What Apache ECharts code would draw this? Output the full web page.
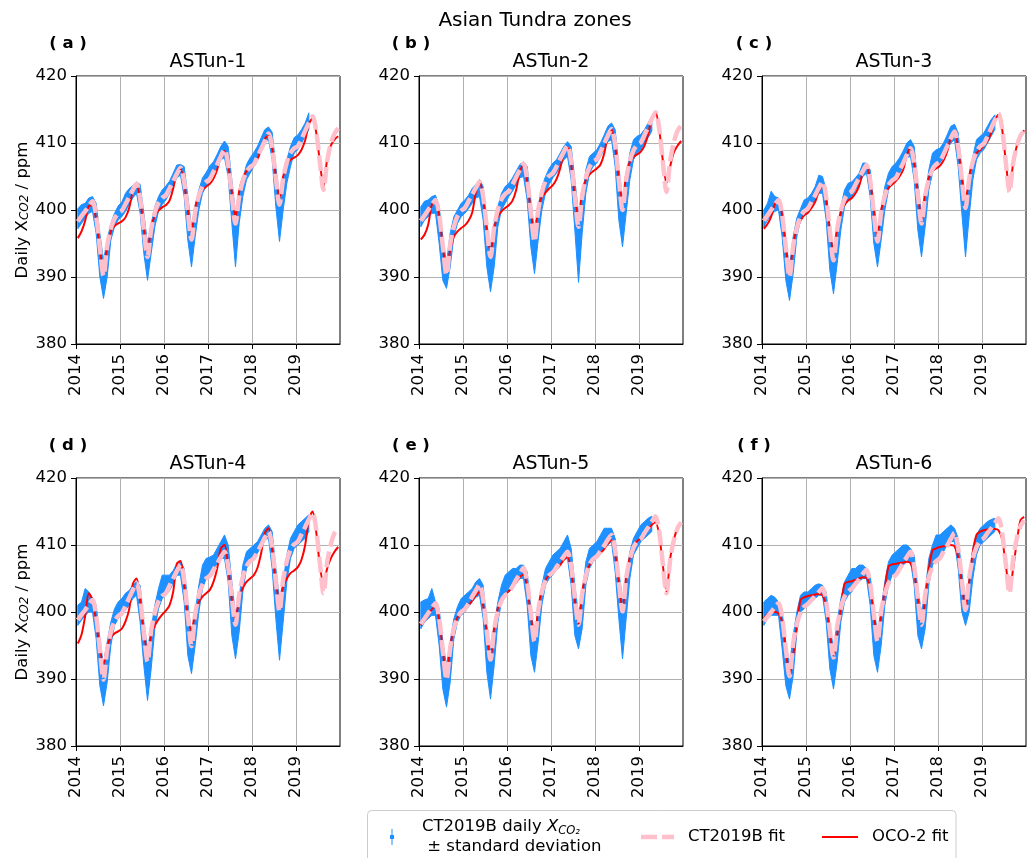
<!DOCTYPE html>
<html>
<head>
<meta charset="utf-8">
<title>Asian Tundra zones</title>
<script src="https://cdn.jsdelivr.net/npm/echarts@6/dist/echarts.min.js"></script>
<style>
    html, body { margin: 0; padding: 0; background: #fff; }
    #chart { width: 1027px; height: 858px; }
</style>
</head>
<body>
<div id="chart"></div>
<script>
// time axis: middle of every month 2014-2019, decimal years
const years = [2014, 2015, 2016, 2017, 2018, 2019]
const yearTicks = [2014, 2015, 2016, 2017, 2018, 2019]
const monthX = []
years.forEach(y => { for (let m = 0; m < 12; m++) monthX.push(y + (m + 0.5) / 12) })

const zoneNames = ['ASTun-1', 'ASTun-2', 'ASTun-3', 'ASTun-4', 'ASTun-5', 'ASTun-6']
const panelTags = ['( a )', '( b )', '( c )', '( d )', '( e )', '( f )']

// ---- ASTun-1 ----
const ctFit1 = [
    398.3, 399.1, 399.8, 400.6, 401.3, 399.1, 394.4, 390.2, 394.6, 397.2, 398.7, 399.5,
    399.9, 400.9, 401.9, 403.0, 403.9, 401.7, 397.1, 393.0, 397.1, 399.6, 401.1, 401.8,
    402.2, 403.2, 404.3, 405.4, 406.3, 404.2, 399.7, 395.6, 399.7, 402.1, 403.5, 404.2,
    404.6, 405.7, 406.8, 408.0, 409.0, 406.8, 402.2, 398.0, 402.0, 404.3, 405.7, 406.4,
    406.8, 408.0, 409.1, 410.3, 411.4, 409.3, 404.8, 400.8, 404.7, 407.1, 408.5, 409.2,
    409.5, 410.6, 411.8, 413.0, 414.0, 411.8, 407.2, 403.0, 407.3, 409.9, 411.4, 412.2
]
const ocoFit1 = [
    395.8, 396.8, 398.4, 400.6, 400.7, 398.5, 394.2, 391.0, 394.5, 396.8, 397.6, 398.0,
    398.3, 398.9, 400.3, 402.8, 403.7, 401.6, 397.3, 393.9, 397.3, 399.2, 399.9, 400.4,
    400.7, 401.4, 403.2, 405.6, 406.1, 404.0, 400.0, 396.7, 400.4, 402.2, 403.0, 403.5,
    403.9, 404.7, 406.0, 408.2, 408.8, 406.8, 402.6, 399.0, 402.8, 404.8, 405.8, 406.3,
    406.7, 407.6, 409.0, 410.6, 411.1, 409.2, 405.1, 401.8, 405.0, 406.8, 407.5, 407.8,
    408.2, 409.0, 410.4, 412.8, 413.7, 411.6, 407.2, 403.4, 407.6, 409.6, 410.5, 411.0
]
const dailyLow1 = [
    397.2, 398.0, 398.8, 399.5, 399.8, 396.5, 390.0, 386.8, 390.0, 395.5, 397.5, 398.5,
    399.0, 399.8, 400.8, 401.8, 402.5, 399.5, 393.5, 389.5, 393.5, 397.5, 399.8, 400.8,
    401.5, 402.5, 403.5, 404.8, 405.2, 402.0, 395.5, 391.5, 396.0, 400.0, 402.5, 403.5,
    404.5, 405.2, 406.2, 407.5, 407.8, 405.0, 398.0, 391.5, 398.0, 402.0, 404.5, 405.5,
    406.5, 407.5, 408.8, 410.0, 410.5, 407.5, 400.5, 395.3, 400.0, 404.0, 406.5, 408.5,
    409.0, 410.0, 411.0, 412.0
]
const dailyHigh1 = [
    400.2, 400.8, 401.0, 401.8, 402.0, 401.0, 396.5, 392.5, 395.5, 398.0, 399.5, 400.6,
    401.2, 402.5, 403.2, 403.6, 404.2, 403.8, 399.5, 395.0, 398.0, 400.5, 402.0, 403.0,
    403.6, 404.3, 405.5, 406.7, 406.8, 406.5, 402.0, 397.5, 400.5, 403.0, 404.8, 405.6,
    406.6, 407.2, 408.3, 409.5, 410.3, 409.5, 404.5, 399.5, 402.5, 404.6, 406.8, 407.8,
    408.6, 409.5, 410.8, 412.0, 412.4, 411.6, 406.5, 402.0, 404.5, 407.5, 409.5, 410.8,
    411.2, 412.0, 413.0, 414.5
]

// ---- ASTun-2 ----
const ctFit2 = [
    398.4, 399.2, 400.0, 400.8, 401.5, 399.3, 394.6, 390.3, 394.8, 397.5, 399.1, 399.9,
    400.3, 401.3, 402.3, 403.3, 404.2, 402.0, 397.3, 393.0, 397.4, 400.1, 401.6, 402.4,
    402.8, 403.8, 404.9, 406.0, 406.9, 404.6, 399.7, 395.3, 399.9, 402.6, 404.3, 405.1,
    405.5, 406.5, 407.6, 408.7, 409.6, 407.2, 402.1, 397.5, 402.0, 404.8, 406.4, 407.2,
    407.6, 408.7, 409.9, 411.1, 412.1, 409.7, 404.6, 400.0, 404.5, 407.3, 408.9, 409.7,
    410.1, 411.2, 412.4, 413.6, 414.6, 412.2, 407.2, 402.7, 407.3, 410.1, 411.8, 412.6
]
const ocoFit2 = [
    395.6, 396.3, 397.8, 400.8, 401.6, 399.2, 394.6, 391.0, 394.0, 396.0, 396.8, 397.3,
    397.7, 398.4, 399.6, 402.6, 404.4, 401.8, 397.0, 393.8, 397.3, 399.0, 399.8, 400.3,
    400.7, 401.4, 403.0, 405.7, 406.8, 404.3, 399.8, 396.2, 400.5, 401.9, 402.6, 403.2,
    403.7, 404.6, 406.2, 408.5, 409.4, 406.8, 402.0, 399.0, 402.8, 404.5, 405.3, 405.8,
    406.2, 406.8, 408.4, 411.0, 412.0, 409.5, 404.6, 401.2, 405.3, 407.2, 407.9, 408.3,
    408.7, 409.6, 411.3, 413.8, 414.6, 412.0, 407.4, 404.0, 406.5, 408.6, 409.6, 410.3
]
const dailyLow2 = [
    397.5, 398.5, 399.0, 399.5, 399.5, 395.0, 389.5, 388.3, 391.5, 396.0, 398.0, 399.0,
    399.5, 400.2, 401.0, 401.8, 402.0, 398.5, 391.5, 387.8, 391.5, 397.5, 400.0, 401.0,
    402.0, 402.8, 403.8, 404.8, 405.0, 401.5, 394.5, 390.5, 395.5, 400.0, 402.5, 403.8,
    404.8, 405.5, 406.5, 407.5, 408.0, 404.5, 397.0, 389.2, 396.5, 402.5, 405.5, 406.5,
    407.0, 408.0, 409.0, 410.2, 410.5, 406.5, 398.5, 394.5, 399.5, 404.5, 407.5, 408.5,
    409.0, 410.0, 410.8, 411.8
]
const dailyHigh2 = [
    400.5, 401.3, 401.5, 402.0, 402.2, 400.5, 396.0, 392.0, 396.5, 399.0, 400.0, 401.0,
    401.5, 402.2, 403.2, 403.8, 404.5, 403.5, 398.0, 394.5, 398.0, 400.5, 402.5, 403.5,
    404.0, 404.8, 405.8, 406.8, 407.2, 406.5, 401.5, 396.5, 400.5, 403.5, 405.0, 406.2,
    407.0, 407.5, 408.5, 409.5, 410.2, 409.5, 404.5, 399.5, 401.5, 406.0, 408.0, 408.5,
    409.0, 410.0, 411.2, 412.5, 413.0, 412.0, 406.5, 401.5, 405.0, 408.5, 410.5, 411.0,
    411.3, 412.0, 413.0, 414.0
]

// ---- ASTun-3 ----
const ctFit3 = [
    398.4, 399.2, 400.0, 400.8, 401.5, 399.2, 394.4, 390.0, 394.6, 397.3, 399.0, 399.8,
    400.2, 401.2, 402.2, 403.3, 404.2, 401.9, 396.9, 392.5, 397.1, 399.9, 401.6, 402.4,
    402.8, 403.8, 404.8, 405.8, 406.7, 404.4, 399.6, 395.3, 399.6, 402.1, 403.7, 404.4,
    404.8, 405.9, 407.0, 408.2, 409.2, 407.0, 402.3, 398.0, 402.1, 404.6, 406.1, 406.8,
    407.2, 408.3, 409.5, 410.7, 411.7, 409.4, 404.6, 400.3, 404.6, 407.2, 408.7, 409.5,
    409.9, 411.0, 412.2, 413.4, 414.4, 412.1, 407.1, 402.7, 407.0, 409.5, 411.1, 411.8
]
const ocoFit3 = [
    397.2, 397.9, 399.0, 400.9, 401.4, 399.2, 394.6, 390.6, 394.8, 397.2, 398.4, 399.2,
    399.6, 400.3, 401.2, 402.8, 403.6, 401.5, 397.2, 393.6, 397.4, 399.6, 400.8, 401.4,
    401.8, 402.5, 403.6, 405.6, 406.4, 404.3, 400.0, 396.2, 400.0, 402.2, 403.3, 403.8,
    404.3, 405.0, 406.0, 408.2, 409.2, 407.0, 402.6, 398.6, 402.7, 404.8, 405.8, 406.2,
    406.6, 407.4, 408.7, 410.8, 411.6, 409.2, 404.8, 401.4, 405.0, 407.4, 408.5, 409.0,
    409.6, 410.3, 411.5, 413.4, 414.2, 412.0, 407.2, 403.0, 407.0, 409.6, 411.0, 411.9
]
const dailyLow3 = [
    397.5, 398.5, 399.2, 399.8, 400.0, 396.0, 389.5, 386.5, 390.5, 396.0, 398.5, 399.2,
    399.5, 400.5, 401.5, 402.5, 402.5, 398.5, 391.0, 387.5, 392.0, 397.0, 400.5, 401.5,
    402.0, 403.0, 403.8, 405.0, 405.5, 402.0, 395.0, 391.5, 395.5, 400.0, 403.0, 404.0,
    404.5, 405.5, 406.5, 407.8, 408.0, 404.5, 397.0, 393.0, 397.5, 403.0, 405.5, 406.5,
    407.0, 407.8, 409.0, 410.0, 410.5, 406.5, 399.5, 393.0, 399.0, 404.5, 407.5, 408.5,
    409.0, 410.0, 411.0, 412.0
]
const dailyHigh3 = [
    400.0, 401.0, 402.8, 402.0, 401.8, 400.5, 395.5, 391.5, 396.0, 398.8, 400.2, 401.5,
    401.8, 402.5, 403.5, 405.2, 405.0, 403.0, 397.5, 393.5, 397.0, 400.5, 403.0, 404.0,
    404.2, 404.8, 405.5, 407.0, 407.0, 406.0, 401.0, 396.5, 400.0, 403.5, 405.5, 406.5,
    407.0, 407.8, 408.8, 410.0, 410.5, 409.5, 404.0, 399.5, 402.0, 406.0, 408.5, 409.0,
    409.2, 410.0, 411.2, 412.5, 412.8, 411.5, 406.0, 401.5, 404.0, 408.0, 410.5, 411.0,
    411.5, 412.5, 413.5, 414.2
]

// ---- ASTun-4 ----
const ctFit4 = [
    398.8, 399.6, 400.3, 401.1, 401.8, 399.4, 394.4, 389.9, 394.4, 397.0, 398.6, 399.4,
    399.8, 400.9, 402.1, 403.3, 404.3, 402.0, 397.0, 392.6, 397.2, 399.9, 401.6, 402.4,
    402.8, 403.9, 405.0, 406.1, 407.1, 404.7, 399.5, 394.9, 399.6, 402.5, 404.1, 405.0,
    405.4, 406.3, 407.2, 408.2, 409.0, 406.8, 402.2, 398.1, 402.6, 405.2, 406.8, 407.6,
    408.0, 409.0, 410.0, 411.1, 412.0, 409.6, 404.6, 400.1, 404.8, 407.6, 409.3, 410.1,
    410.5, 411.6, 412.7, 413.8, 414.8, 412.4, 407.4, 402.8, 407.4, 410.1, 411.8, 412.6
]
const ocoFit4 = [
    395.3, 396.6, 399.4, 402.8, 401.8, 398.5, 394.5, 392.2, 395.0, 396.2, 396.8, 397.1,
    397.5, 398.6, 400.4, 404.2, 405.0, 401.8, 397.0, 394.0, 396.5, 398.0, 398.9, 399.6,
    400.2, 401.0, 403.0, 407.2, 407.6, 404.0, 399.5, 397.2, 400.0, 401.5, 402.3, 402.8,
    403.3, 404.5, 406.5, 409.5, 410.0, 406.6, 401.8, 399.0, 402.0, 403.6, 404.5, 405.0,
    405.5, 406.6, 408.8, 411.8, 412.5, 409.3, 404.5, 401.8, 403.8, 405.0, 405.8, 406.2,
    406.7, 407.8, 410.0, 413.8, 415.0, 412.0, 407.0, 404.2, 406.5, 408.0, 409.0, 409.7
]
const dailyLow4 = [
    398.0, 398.8, 399.5, 400.0, 400.0, 396.0, 389.0, 386.0, 389.5, 395.0, 398.0, 399.0,
    399.5, 400.3, 401.0, 402.0, 402.5, 398.5, 392.0, 386.8, 391.5, 397.5, 400.5, 402.0,
    402.5, 403.2, 404.2, 405.5, 405.5, 401.5, 393.5, 390.8, 395.0, 400.0, 403.5, 405.0,
    405.5, 406.5, 407.2, 408.0, 408.0, 404.5, 396.5, 393.0, 397.0, 403.0, 406.5, 407.5,
    408.0, 408.8, 409.8, 410.8, 411.0, 406.5, 399.0, 392.8, 398.5, 404.5, 408.0, 409.5,
    410.0, 410.5, 411.0, 412.0
]
const dailyHigh4 = [
    401.0, 401.5, 403.5, 403.0, 402.0, 401.0, 396.0, 392.0, 395.5, 398.5, 400.5, 401.5,
    402.0, 402.8, 403.2, 404.0, 404.5, 404.0, 398.5, 394.5, 397.5, 401.0, 403.5, 405.5,
    405.5, 405.5, 406.2, 407.2, 407.5, 406.5, 401.5, 396.5, 400.0, 404.0, 407.0, 408.0,
    408.2, 408.5, 409.5, 410.5, 411.5, 410.0, 404.5, 399.5, 402.0, 407.0, 409.0, 409.5,
    410.0, 410.5, 411.5, 412.5, 413.0, 412.0, 406.5, 402.0, 404.5, 408.5, 411.0, 412.0,
    413.0, 413.5, 414.0, 414.5
]

// ---- ASTun-5 ----
const ctFit5 = [
    398.2, 399.0, 399.8, 400.6, 401.3, 399.0, 394.2, 389.9, 394.6, 397.5, 399.1, 400.0,
    400.4, 401.3, 402.3, 403.2, 404.1, 401.9, 397.2, 392.9, 397.4, 400.1, 401.7, 402.5,
    402.9, 403.8, 404.8, 405.7, 406.6, 404.4, 399.8, 395.6, 400.2, 403.0, 404.7, 405.5,
    405.9, 406.7, 407.5, 408.3, 409.0, 406.8, 402.2, 398.1, 402.7, 405.4, 407.1, 407.9,
    408.3, 409.1, 409.9, 410.8, 411.5, 409.2, 404.4, 400.1, 405.0, 407.9, 409.6, 410.5,
    410.9, 411.8, 412.6, 413.5, 414.3, 412.0, 407.2, 402.8, 407.8, 410.7, 412.5, 413.4
]
const ocoFit5 = [
    398.0, 398.7, 399.5, 400.4, 400.8, 398.8, 394.3, 390.3, 394.8, 397.6, 399.2, 400.0,
    400.4, 401.0, 401.7, 402.5, 403.0, 401.0, 396.8, 393.0, 397.8, 400.6, 402.0, 402.7,
    403.1, 403.7, 404.4, 405.2, 405.6, 403.6, 399.6, 395.8, 400.5, 403.3, 404.8, 405.5,
    405.9, 406.4, 407.0, 407.8, 408.2, 406.0, 401.8, 398.3, 403.0, 405.6, 407.0, 407.8,
    408.3, 408.8, 409.4, 410.2, 410.7, 408.6, 404.4, 400.4, 405.4, 408.2, 409.8, 410.6,
    411.0, 411.6, 412.3, 413.0, 413.4, 411.5, 407.0, 403.0, 408.0, 410.8, 412.5, 413.3
]
const dailyLow5 = [
    397.5, 398.5, 399.0, 399.5, 399.5, 395.0, 388.5, 385.8, 389.5, 396.0, 398.5, 399.5,
    400.0, 400.8, 401.5, 402.2, 402.5, 399.0, 391.0, 387.0, 392.0, 398.5, 401.5, 402.5,
    403.0, 403.8, 404.5, 405.0, 405.0, 401.0, 393.5, 391.0, 395.5, 401.0, 404.0, 405.0,
    405.5, 406.5, 407.0, 407.8, 408.0, 404.0, 396.5, 394.5, 397.5, 404.0, 406.5, 407.5,
    408.0, 408.8, 409.5, 410.0, 410.5, 406.0, 399.0, 393.0, 399.0, 405.0, 408.5, 409.5,
    410.5, 411.0, 411.5, 412.0
]
const dailyHigh5 = [
    401.5, 401.8, 402.0, 403.5, 401.5, 400.5, 395.5, 392.0, 395.5, 399.0, 400.8, 402.0,
    402.5, 403.0, 403.5, 404.5, 405.0, 404.0, 398.0, 394.0, 398.0, 401.5, 404.0, 405.5,
    406.0, 406.5, 406.5, 407.0, 407.0, 406.0, 400.5, 396.5, 400.5, 404.0, 406.5, 407.5,
    408.5, 409.0, 409.5, 410.5, 411.5, 409.5, 404.0, 399.5, 402.5, 407.5, 409.5, 410.0,
    410.5, 411.5, 412.5, 412.5, 412.5, 411.0, 406.0, 402.0, 404.5, 409.0, 411.0, 412.0,
    413.0, 413.5, 414.0, 414.3
]

// ---- ASTun-6 ----
const ctFit6 = [
    398.6, 399.3, 400.0, 400.7, 401.3, 399.1, 394.5, 390.4, 395.3, 398.2, 399.9, 400.8,
    401.2, 401.8, 402.4, 403.0, 403.6, 401.5, 397.2, 393.2, 397.8, 400.6, 402.3, 403.1,
    403.5, 404.2, 404.9, 405.7, 406.3, 404.2, 399.7, 395.6, 400.1, 402.7, 404.3, 405.1,
    405.5, 406.4, 407.3, 408.2, 409.0, 406.8, 402.2, 398.1, 402.6, 405.2, 406.8, 407.6,
    408.0, 409.0, 409.9, 410.9, 411.8, 409.5, 404.7, 400.3, 405.1, 408.0, 409.7, 410.6,
    411.0, 411.8, 412.5, 413.3, 414.0, 411.8, 407.1, 402.8, 407.9, 411.0, 412.8, 413.7
]
const ocoFit6 = [
    399.0, 399.7, 400.0, 400.0, 399.8, 398.5, 394.5, 390.6, 393.5, 398.0, 401.8, 402.2,
    402.4, 402.5, 402.6, 402.7, 402.5, 400.8, 397.0, 393.5, 396.5, 400.5, 404.2, 404.5,
    404.6, 404.8, 405.0, 405.2, 405.1, 403.5, 399.7, 396.2, 399.5, 403.5, 406.8, 407.1,
    407.2, 407.3, 407.4, 407.5, 407.3, 405.8, 402.0, 398.5, 402.0, 406.5, 409.2, 409.5,
    409.7, 409.8, 409.9, 410.0, 409.8, 408.2, 404.3, 400.6, 404.5, 409.0, 411.5, 412.0,
    412.2, 412.3, 412.4, 412.4, 412.2, 410.8, 407.0, 403.2, 406.5, 410.5, 413.7, 414.2
]
const dailyLow6 = [
    398.0, 399.0, 399.5, 399.5, 399.5, 394.5, 389.0, 387.0, 390.5, 397.0, 400.0, 400.5,
    401.0, 401.5, 402.0, 402.5, 402.5, 398.5, 391.5, 388.5, 392.5, 398.5, 401.5, 402.5,
    403.0, 404.0, 404.5, 405.0, 405.0, 401.0, 393.5, 391.0, 395.0, 401.0, 404.0, 405.5,
    406.0, 406.5, 407.0, 407.5, 407.5, 404.0, 396.5, 394.5, 397.5, 404.0, 407.0, 408.0,
    408.5, 409.0, 410.0, 410.5, 410.5, 406.5, 400.0, 398.0, 400.0, 405.0, 408.5, 410.0,
    410.5, 411.0, 411.5, 412.0
]
const dailyHigh6 = [
    401.5, 402.0, 402.5, 402.2, 401.5, 400.0, 395.5, 392.0, 396.5, 400.0, 402.5, 403.0,
    403.0, 403.5, 404.0, 404.2, 404.0, 403.0, 398.0, 394.5, 398.5, 402.0, 404.5, 405.5,
    406.5, 406.5, 407.0, 407.0, 406.5, 405.5, 400.5, 397.0, 400.5, 404.5, 407.5, 408.5,
    409.0, 409.5, 410.0, 410.0, 409.5, 408.5, 403.5, 400.0, 403.0, 408.0, 410.0, 411.5,
    411.5, 412.0, 412.5, 413.0, 412.5, 411.0, 406.0, 402.0, 405.0, 409.5, 411.5, 412.5,
    413.0, 413.5, 413.8, 414.0
]

const ctFits = [ctFit1, ctFit2, ctFit3, ctFit4, ctFit5, ctFit6]
const ocoFits = [ocoFit1, ocoFit2, ocoFit3, ocoFit4, ocoFit5, ocoFit6]
const dailyLows = [dailyLow1, dailyLow2, dailyLow3, dailyLow4, dailyLow5, dailyLow6]
const dailyHighs = [dailyHigh1, dailyHigh2, dailyHigh3, dailyHigh4, dailyHigh5, dailyHigh6]

const FONT = 'DejaVu Sans'
const BLUE = '#1e90ff'
const PINK = '#ffc0cb'
const RED = '#ff0000'
const NAME_DAILY = 'CT2019B daily'
const NAME_CT = 'CT2019B fit'
const NAME_OCO = 'OCO-2 fit'

// plot boxes in pixels
const boxes = [
    { left: 76, top: 76 }, { left: 419, top: 76 }, { left: 762, top: 76 },
    { left: 76, top: 478 }, { left: 419, top: 478 }, { left: 762, top: 478 }
]
const BOX_W = 264
const BOX_H = 268

const chart = echarts.init(document.getElementById('chart'))

const grids = [], xAxes = [], yAxes = [], series = []
const graphics = [
    {
        type: 'rect', z: 0,
        shape: { x: 367.5, y: 810.5, width: 588.5, height: 70, r: 4 },
        style: { fill: 'rgba(255,255,255,0.8)', stroke: '#cccccc', lineWidth: 1 }
    },
    {
        type: 'text', x: 535, y: 21,
        style: { text: 'Asian Tundra zones', font: '20px "DejaVu Sans"', fill: '#000', align: 'center', verticalAlign: 'middle' }
    }
]

boxes.forEach((b, i) => {
    grids.push({
        left: b.left, top: b.top, width: BOX_W, height: BOX_H,
        show: true, borderColor: '#000', borderWidth: 1, backgroundColor: 'transparent'
    })
    xAxes.push({
        gridIndex: i, type: 'value', min: 2014, max: 2020, interval: 1,
        axisLine: { show: true, onZero: false, lineStyle: { color: '#000', width: 1 } },
        axisTick: { show: true, length: 5, customValues: yearTicks, lineStyle: { color: '#000' } },
        axisLabel: {
            rotate: 90, margin: 10, color: '#000', fontFamily: FONT, fontSize: 16.5,
            customValues: yearTicks, formatter: v => String(Math.round(v))
        },
        splitLine: { show: true, lineStyle: { color: '#b0b0b0', width: 1 } }
    })
    yAxes.push({
        gridIndex: i, type: 'value', min: 380, max: 420, interval: 10,
        axisLine: { show: true, lineStyle: { color: '#000', width: 1 } },
        axisTick: { show: true, length: 5, lineStyle: { color: '#000' } },
        axisLabel: { margin: 9, color: '#000', fontFamily: FONT, fontSize: 16.5 },
        splitLine: { show: true, lineStyle: { color: '#b0b0b0', width: 1 } },
        name: (i % 3 === 0) ? 'Daily X{s|CO2} / ppm' : '',
        nameLocation: 'middle', nameRotate: 90, nameGap: 45,
        nameTextStyle: {
            color: '#000', fontFamily: FONT, fontSize: 16.5,
            rich: { s: { fontFamily: FONT, fontSize: 12, fontStyle: 'italic', verticalAlign: 'bottom', color: '#000' } }
        }
    })

    const lo = dailyLows[i], hi = dailyHighs[i]
    series.push({
        type: 'custom', name: NAME_DAILY, xAxisIndex: i, yAxisIndex: i, z: 1,
        itemStyle: { color: BLUE },
        data: lo.map((v, k) => [monthX[k], v, hi[k]]),
        encode: { x: 0, y: [1, 2] },
        renderItem: function (params, api) {
            if (params.dataIndex !== 0) return
            const upper = hi.map((v, k) => api.coord([monthX[k], v]))
            const lower = lo.map((v, k) => api.coord([monthX[k], v])).reverse()
            return {
                type: 'polygon',
                shape: { points: upper.concat(lower) },
                style: { fill: BLUE, stroke: BLUE, lineWidth: 1 }
            }
        }
    })
    series.push({
        type: 'line', name: NAME_OCO, xAxisIndex: i, yAxisIndex: i, z: 2,
        symbol: 'none', smooth: 0.3,
        data: ocoFits[i].map((v, k) => [monthX[k], v]),
        lineStyle: { color: RED, width: 2 },
        itemStyle: { color: RED }
    })
    series.push({
        type: 'line', name: NAME_CT, xAxisIndex: i, yAxisIndex: i, z: 3,
        symbol: 'none', smooth: 0.3,
        data: ctFits[i].map((v, k) => [monthX[k], v]),
        lineStyle: { color: PINK, width: 4.5, type: [16, 5], cap: 'butt' },
        itemStyle: { color: PINK }
    })

    const cx = b.left + BOX_W / 2
    graphics.push({
        type: 'text', x: cx, y: b.top - 14,
        style: { text: zoneNames[i], font: '19px "DejaVu Sans"', fill: '#000', align: 'center', verticalAlign: 'middle' }
    })
    graphics.push({
        type: 'text', x: b.left - 8, y: b.top - 32,
        style: { text: panelTags[i], font: 'bold 16.5px "DejaVu Sans"', fill: '#000', align: 'center', verticalAlign: 'middle' }
    })
})

const legendText = {
    color: '#000', fontFamily: FONT, fontSize: 16.5, lineHeight: 20,
    rich: {
        x: { fontFamily: FONT, fontSize: 16.5, fontStyle: 'italic', lineHeight: 20, color: '#000' },
        s: { fontFamily: FONT, fontSize: 11.5, fontStyle: 'italic', verticalAlign: 'bottom', lineHeight: 20, color: '#000' },
        g: { width: 9 },
        gb: { width: 23 }
    }
}

const option = {
    animation: false,
    backgroundColor: '#fff',
    grid: grids,
    xAxis: xAxes,
    yAxis: yAxes,
    series: series,
    graphic: graphics,
    legend: [
        {
            data: [{ name: NAME_DAILY, icon: 'path://M1.5,0H2.5V16H1.5Z M0,6H4V10H0Z' }],
            left: 390, top: 817, padding: 0, itemWidth: 4, itemHeight: 16,
            itemStyle: { color: BLUE, opacity: 1, borderWidth: 0 },
            selectedMode: false, textStyle: legendText,
            formatter: () => '{gb| }CT2019B daily {x|X}{s|CO₂}\n{gb| } ± standard deviation'
        },
        {
            // dashed key: two pink dashes
            data: [{ name: NAME_CT, icon: 'path://M0,0H16V4.5H0Z M21,0H33V4.5H21Z' }],
            left: 641, top: 827, padding: 0, itemWidth: 33, itemHeight: 4.5,
            itemStyle: { color: PINK, opacity: 1, borderWidth: 0 },
            lineStyle: { opacity: 0, width: 0 },
            selectedMode: false, textStyle: legendText,
            formatter: name => '{g| }' + name
        },
        {
            data: [{ name: NAME_OCO, icon: 'path://M0,0H36V2.2H0Z' }],
            left: 822, top: 827, padding: 0, itemWidth: 36, itemHeight: 2.2,
            itemStyle: { color: RED, opacity: 1, borderWidth: 0 },
            lineStyle: { opacity: 0, width: 0 },
            selectedMode: false, textStyle: legendText,
            formatter: name => '{g| }' + name
        }
    ]
}

chart.setOption(option)
</script>
</body>
</html>
